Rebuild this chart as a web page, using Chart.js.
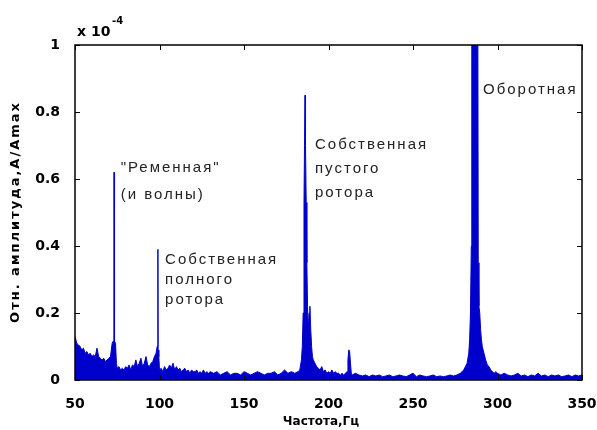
<!DOCTYPE html>
<html>
<head>
<meta charset="utf-8">
<script src="https://cdn.jsdelivr.net/npm/chart.js@4.4.1/dist/chart.umd.min.js"></script>
<style>
html, body { margin: 0; padding: 0; background: #fff; }
</style>
</head>
<body>
<canvas id="spec" width="597" height="430"></canvas>
<script>
// spectrum (amplitude in units of 1e-4)
const freqHz = [
  50, 51, 52, 53, 54, 55, 56, 57, 58, 59, 60, 61, 62, 63, 64, 65, 66, 67, 68, 69, 70, 71, 72, 72.5, 73, 73.1, 73.2, 73.6, 74, 74.5,
  75, 76, 77, 78, 79, 80, 81, 82, 83, 84, 85, 86, 87, 88, 89, 90, 91, 92, 93, 94, 95, 96, 97, 98, 98.6, 99, 99.1, 99.2, 99.6, 100,
  101, 102, 103, 104, 105, 106, 107, 108, 109, 110, 111, 112, 113, 114, 115, 116, 117, 118, 119, 120,
  121, 122, 123, 124, 125, 126, 127, 128, 129, 130, 132, 134, 136, 138, 140, 142, 144, 146, 148, 150,
  152, 154, 156, 158, 160, 162, 164, 166, 168, 170, 172, 174, 176, 178, 180, 182, 183,
  184, 184.5, 185, 185.5, 185.8, 186.1, 186.4, 186.8, 187.2, 187.6, 188, 188.5, 189, 189.5, 190, 190.5, 191, 192, 193, 194, 195, 196, 197, 198, 199, 200,
  201, 202, 203, 204, 205, 206, 207, 208, 209, 210, 211, 211.5, 212, 212.5, 213, 213.5, 214, 216, 218, 220,
  222, 224, 226, 228, 230, 232, 234, 236, 238, 240, 242, 244, 246, 248, 250, 252, 254, 256, 258, 260,
  262, 264, 266, 268, 270, 272, 274, 276, 278, 279, 280, 281, 282,
  283, 283.5, 284, 284.5, 284.8, 288.3, 288.6, 289, 289.5, 290, 290.5, 291, 292, 293, 294, 295, 296, 297, 298, 299, 300,
  302, 304, 306, 308, 310, 312, 314, 316, 318, 320, 322, 324, 326, 328, 330, 332, 334, 336, 338, 340, 342, 344, 346, 348, 350
];
const ampRel = [
  0.13, 0.11, 0.105, 0.1, 0.09, 0.095, 0.08, 0.085, 0.075, 0.08, 0.07, 0.075, 0.07, 0.095, 0.07, 0.065, 0.06, 0.065, 0.055, 0.06, 0.065, 0.07, 0.11, 0.115, 0.11, 0.62, 0.11, 0.115, 0.11, 0.05,
  0.035, 0.04, 0.03, 0.035, 0.03, 0.04, 0.035, 0.045, 0.03, 0.045, 0.04, 0.06, 0.04, 0.05, 0.065, 0.04, 0.05, 0.07, 0.045, 0.04, 0.05, 0.055, 0.07, 0.08, 0.1, 0.1, 0.39, 0.09, 0.07, 0.03,
  0.035, 0.025, 0.04, 0.03, 0.035, 0.045, 0.035, 0.05, 0.03, 0.04, 0.03, 0.035, 0.025, 0.03, 0.035, 0.025, 0.03, 0.02, 0.03, 0.025,
  0.025, 0.03, 0.02, 0.025, 0.02, 0.03, 0.02, 0.025, 0.02, 0.025, 0.02, 0.025, 0.015, 0.02, 0.025, 0.015, 0.02, 0.02, 0.015, 0.025,
  0.02, 0.015, 0.02, 0.025, 0.02, 0.015, 0.02, 0.02, 0.025, 0.015, 0.02, 0.03, 0.02, 0.025, 0.02, 0.025, 0.03,
  0.06, 0.1, 0.2, 0.53, 0.7, 0.85, 0.7, 0.53, 0.35, 0.22, 0.15, 0.2, 0.22, 0.15, 0.1, 0.07, 0.06, 0.05, 0.04, 0.035, 0.03, 0.04, 0.025, 0.03, 0.02, 0.025,
  0.02, 0.03, 0.02, 0.025, 0.02, 0.02, 0.015, 0.02, 0.015, 0.02, 0.025, 0.06, 0.09, 0.085, 0.05, 0.02, 0.015, 0.02, 0.015, 0.012,
  0.015, 0.01, 0.015, 0.012, 0.015, 0.01, 0.012, 0.015, 0.01, 0.012, 0.015, 0.012, 0.01, 0.015, 0.02, 0.01, 0.015, 0.012, 0.01, 0.012,
  0.015, 0.01, 0.012, 0.01, 0.012, 0.015, 0.012, 0.015, 0.02, 0.025, 0.03, 0.04, 0.05,
  0.08, 0.12, 0.2, 0.4, 1.3, 1.3, 0.35, 0.22, 0.2, 0.15, 0.12, 0.1, 0.08, 0.06, 0.045, 0.04, 0.03, 0.025, 0.02, 0.025, 0.02,
  0.015, 0.02, 0.015, 0.012, 0.015, 0.02, 0.012, 0.015, 0.01, 0.015, 0.012, 0.02, 0.012, 0.015, 0.01, 0.015, 0.012, 0.015, 0.01, 0.012, 0.015, 0.01, 0.015, 0.012, 0.015
];
const xTicks = [50, 100, 150, 200, 250, 300, 350];
const yTicks = [0, 0.2, 0.4, 0.6, 0.8, 1];
const xTitle = 'Частота,Гц';
const yTitle = 'Отн. амплитуда,A/Amax';

// text notes next to the peaks: anchor in data units, gap between lines in px
const notes = [
  { lines: ['"Ременная"', '(и волны)'], f: 77, a: 0.62, gap: 27 },
  { lines: ['Собственная', 'полного', 'ротора'], f: 103.3, a: 0.345, gap: 20 },
  { lines: ['Собственная', 'пустого', 'ротора'], f: 192, a: 0.69, gap: 24 },
  { lines: ['Оборотная'], f: 291.4, a: 0.855, gap: 0 }
];

const blue = '#0000cc';

const frame = {
  id: 'frame',
  afterDatasetsDraw(chart) {
    const { ctx, chartArea: a, scales: { x, y } } = chart;
    ctx.save();
    ctx.strokeStyle = '#000';
    ctx.lineWidth = 1.5;
    ctx.strokeRect(a.left, a.top, a.right - a.left, a.bottom - a.top);
    ctx.lineWidth = 1;
    ctx.beginPath();
    x.ticks.forEach(t => {
      const px = Math.round(x.getPixelForValue(t.value)) + 0.5;
      ctx.moveTo(px, a.bottom); ctx.lineTo(px, a.bottom - 5);
      ctx.moveTo(px, a.top); ctx.lineTo(px, a.top + 5);
    });
    y.ticks.forEach(t => {
      const py = Math.round(y.getPixelForValue(t.value)) + 0.5;
      ctx.moveTo(a.left, py); ctx.lineTo(a.left + 5, py);
      ctx.moveTo(a.right, py); ctx.lineTo(a.right - 5, py);
    });
    ctx.stroke();

    // notes
    ctx.fillStyle = '#222';
    ctx.font = '15px "Liberation Sans", Arial, sans-serif';
    ctx.letterSpacing = '2px';
    ctx.textAlign = 'left';
    ctx.textBaseline = 'alphabetic';
    notes.forEach(n => {
      const px = x.getPixelForValue(n.f);
      const py = y.getPixelForValue(n.a);
      n.lines.forEach((s, i) => ctx.fillText(s, px, py + i * n.gap));
    });

    // axis titles
    ctx.fillStyle = '#000';
    ctx.textAlign = 'center';
    ctx.textBaseline = 'middle';
    ctx.font = 'bold 12px "DejaVu Sans", sans-serif';
    ctx.letterSpacing = '0px';
    ctx.fillText(xTitle, 321, 422);
    ctx.font = 'bold 13px "DejaVu Sans", sans-serif';
    ctx.letterSpacing = '2px';
    ctx.translate(16, 212);
    ctx.rotate(-Math.PI / 2);
    ctx.fillText(yTitle, 0, 0);
    ctx.restore();

    // exponent above the y axis
    ctx.save();
    ctx.fillStyle = '#000';
    ctx.textAlign = 'left';
    ctx.textBaseline = 'alphabetic';
    ctx.font = 'bold 14px "DejaVu Sans", sans-serif';
    ctx.fillText('x 10', a.left + 2, 36);
    ctx.font = 'bold 10px "DejaVu Sans", sans-serif';
    ctx.fillText('-4', a.left + 37, 24);
    ctx.restore();
  }
};

new Chart(document.getElementById('spec'), {
  type: 'line',
  data: {
    datasets: [{
      data: freqHz.map((f, i) => ({ x: f, y: ampRel[i] })),
      borderColor: blue,
      backgroundColor: blue,
      borderWidth: 1,
      fill: 'origin',
      pointRadius: 0,
      tension: 0
    }]
  },
  options: {
    responsive: false,
    animation: false,
    devicePixelRatio: 1,
    layout: { padding: { top: 45, right: 15, left: 0, bottom: 0 } },
    plugins: { legend: { display: false }, tooltip: { enabled: false } },
    scales: {
      x: {
        type: 'linear',
        min: 50,
        max: 350,
        afterBuildTicks: s => { s.ticks = xTicks.map(v => ({ value: v })); },
        afterFit: s => { s.height = 50; s.paddingLeft = 0; s.paddingRight = 0; },
        grid: { display: false },
        border: { display: false },
        ticks: {
          color: '#000',
          font: { family: 'DejaVu Sans', size: 14, weight: 'bold' },
          padding: 8,
          maxRotation: 0,
          autoSkip: false,
          callback: v => String(v)
        }
      },
      y: {
        min: 0,
        max: 1,
        afterBuildTicks: s => { s.ticks = yTicks.map(v => ({ value: v })); },
        afterFit: s => { s.width = 75; s.paddingTop = 0; s.paddingBottom = 0; },
        grid: { display: false },
        border: { display: false },
        ticks: {
          color: '#000',
          font: { family: 'DejaVu Sans', size: 14, weight: 'bold' },
          padding: 7,
          autoSkip: false,
          callback: v => String(v)
        }
      }
    }
  },
  plugins: [frame]
});
</script>
</body>
</html>
